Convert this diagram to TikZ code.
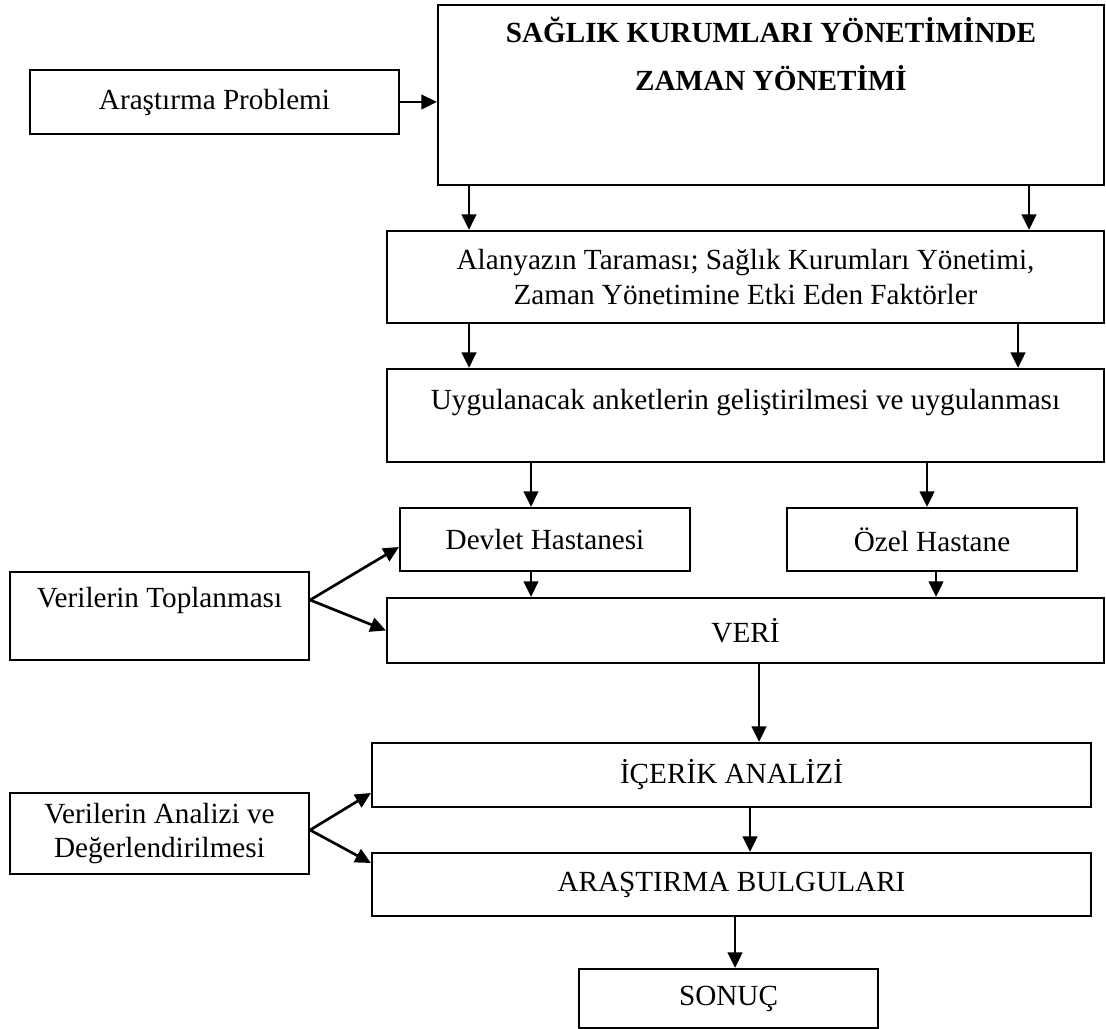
\documentclass[tikz,border=0pt]{standalone}
\usepackage{fontspec}
\setmainfont{Liberation Serif}
\usetikzlibrary{arrows.meta,calc}
\newcommand\pxu{0.411pt}
\begin{document}
\begin{tikzpicture}[x=\pxu,y=-\pxu,
  box/.style={draw,line width=0.9pt,inner sep=0pt,font=\fontsize{12}{14}\selectfont},
  wh/.style 2 args={minimum width=#1*\pxu,minimum height=#2*\pxu},
  arr/.style={line width=1.1pt,-{Triangle[length=6.4pt,width=6pt]}}]
   \useasboundingbox (0,0) rectangle (1106,1029);
   \node[box,wh={369}{64}] (prob) at (214.5,102) {Araştırma Problemi};
   \node[box,wh={666}{180}] (topic) at (771,95) {};
   \node[align=center,font=\bfseries\fontsize{12}{20}\selectfont] (topictxt) at (771,54) {SAĞLIK KURUMLARI YÖNETİMİNDE\\ZAMAN YÖNETİMİ};
   \node[box,wh={717}{92},align=center] (alan) at (745.5,277) {Alanyazın Taraması; Sağlık Kurumları Yönetimi,\\Zaman Yönetimine Etki Eden Faktörler};
   \node[box,wh={717}{93},text depth=13.6pt] (uygula) at (745.5,415.5) {Uygulanacak anketlerin geliştirilmesi ve uygulanması};
   \node[box,wh={290}{63}] (devlet) at (545,539.5) {Devlet Hastanesi};
   \node[box,wh={290}{63}] (ozel) at (932,539.5) {Özel Hastane};
   \node[box,wh={299}{88},text depth=15.6pt] (toplama) at (159.5,616) {Verilerin Toplanması};
   \node[box,wh={717}{65}] (veri) at (745.5,630.5) {VERİ};
   \node[box,wh={719}{64}] (icerik) at (731.5,775) {İÇERİK ANALİZİ};
   \node[box,wh={299}{81},align=center] (analiz) at (159.5,833.5) {Verilerin Analizi ve\\Değerlendirilmesi};
   \node[box,wh={719}{63}] (bulgu) at (731.5,884.5) {ARAŞTIRMA BULGULARI};
   \node[box,wh={299}{59}] (sonuc) at (728.5,998.5) {SONUÇ};
   \draw[arr] (prob.east) -- (prob.east -| topic.west);
   \draw[arr] (topic.south -| 469,0) -- (alan.north -| 469,0);
   \draw[arr] (topic.south -| 1029,0) -- (alan.north -| 1029,0);
   \draw[arr] (alan.south -| 469,0) -- (uygula.north -| 469,0);
   \draw[arr] (alan.south -| 1018,0) -- (uygula.north -| 1018,0);
   \draw[arr] (uygula.south -| 531,0) -- (devlet.north -| 531,0);
   \draw[arr] (uygula.south -| 927,0) -- (ozel.north -| 927,0);
   \draw[arr] (devlet.south -| 531,0) -- (veri.north -| 531,0);
   \draw[arr] (ozel.south -| 936,0) -- (veri.north -| 936,0);
   \coordinate (tfork) at ($(toplama.east)+(0,-16)$);
   \draw[arr] (tfork) -- ($(devlet.west)+(0,7.5)$);
   \draw[arr] (tfork) -- (veri.west);
   \draw[arr] (veri.south -| 759,0) -- (icerik.north -| 759,0);
   \draw[arr] (icerik.south -| 750,0) -- (bulgu.north -| 750,0);
   \draw[arr] (bulgu.south -| 735,0) -- (sonuc.north -| 735,0);
   \coordinate (afork) at ($(analiz.east)+(0,-3.5)$);
   \draw[arr] (afork) -- ($(icerik.west)+(0,18)$);
   \draw[arr] (afork) -- ($(bulgu.west)+(0,-21.5)$);
\end{tikzpicture}
\end{document}
